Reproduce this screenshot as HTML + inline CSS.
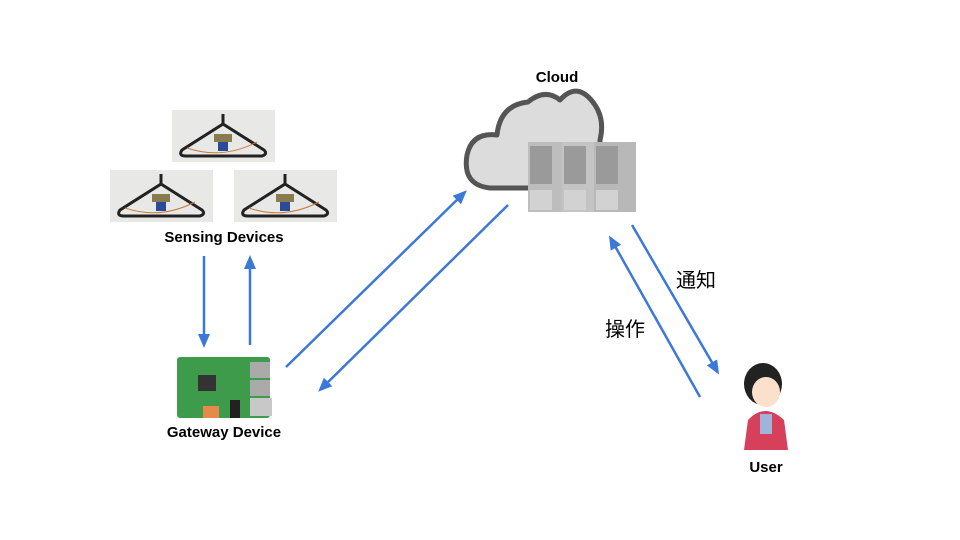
<!DOCTYPE html>
<html><head><meta charset="utf-8"><style>
body{margin:0;background:#fff;width:960px;height:540px;overflow:hidden}
svg{display:block}
.t{font-family:"Liberation Sans",sans-serif;font-weight:bold;font-size:15px;fill:#000;text-anchor:middle}
.j{font-family:"Liberation Sans","Noto Sans CJK JP",sans-serif;font-size:20px;fill:#000;text-anchor:middle}
</style></head><body>
<svg width="960" height="540" viewBox="0 0 960 540">
<defs>
<marker id="a" markerWidth="14" markerHeight="14" refX="10" refY="7" orient="auto" markerUnits="userSpaceOnUse" viewBox="0 0 14 14">
<path d="M0,1 L14,7 L0,13 z" fill="#3c78d8"/></marker>
<g id="h">
<rect width="103" height="52" fill="#e8e8e6"/>
<path d="M51,4 L51,14 L10,40 Q6,46 14,46 L90,46 Q96,44 92,40 L51,14" fill="none" stroke="#222" stroke-width="3"/>
<rect x="42" y="24" width="18" height="8" fill="#8a7a50"/>
<rect x="46" y="32" width="10" height="9" fill="#2a4a9a"/>
<path d="M15,38 Q50,50 85,32" fill="none" stroke="#c87a3a" stroke-width="1"/>
</g>
</defs>
<use href="#h" x="172" y="110"/>
<use href="#h" x="110" y="170"/>
<use href="#h" x="234" y="170"/>
<text class="t" x="224" y="242">Sensing Devices</text>

<path d="M490,188 Q462,185 467,155 Q472,132 497,135 Q500,105 528,102 Q545,88 560,100 Q578,80 595,105 Q605,120 600,140 L600,188 Z" fill="#dcdcdc" stroke="#555" stroke-width="5" stroke-linejoin="round"/>
<g>
<rect x="528" y="142" width="34" height="70" fill="#bdbdbd"/>
<rect x="562" y="142" width="32" height="70" fill="#c4c4c4"/>
<rect x="594" y="142" width="42" height="70" fill="#b8b8b8"/>
<rect x="530" y="146" width="22" height="38" fill="#9a9a9a"/>
<rect x="564" y="146" width="22" height="38" fill="#9a9a9a"/>
<rect x="596" y="146" width="22" height="38" fill="#9a9a9a"/>
<rect x="530" y="190" width="22" height="20" fill="#d2d2d2"/>
<rect x="564" y="190" width="22" height="20" fill="#d2d2d2"/>
<rect x="596" y="190" width="22" height="20" fill="#d2d2d2"/>
</g>
<text class="t" x="557" y="82">Cloud</text>

<rect x="177" y="357" width="93" height="61" rx="3" fill="#3f9b4c"/>
<rect x="250" y="362" width="20" height="16" fill="#aaa"/>
<rect x="250" y="380" width="20" height="16" fill="#aaa"/>
<rect x="250" y="398" width="22" height="18" fill="#c8c8c8"/>
<rect x="198" y="375" width="18" height="16" fill="#333"/>
<rect x="203" y="406" width="16" height="12" fill="#e58a4a"/>
<rect x="230" y="400" width="10" height="18" fill="#222"/>
<text class="t" x="224" y="437">Gateway Device</text>

<ellipse cx="763" cy="384" rx="19" ry="21" fill="#222"/>
<ellipse cx="766" cy="392" rx="14" ry="15" fill="#fbe0cc"/>
<path d="M748,420 Q765,402 784,420 L788,450 L744,450 Z" fill="#d6405a"/>
<rect x="760" y="414" width="12" height="20" fill="#9fb4d8"/>
<text class="t" x="766" y="472">User</text>

<g stroke="#3c78d8" stroke-width="2.5" fill="none" marker-end="url(#a)">
<line x1="204" y1="256" x2="204" y2="344"/>
<line x1="250" y1="345" x2="250" y2="259"/>
<line x1="286" y1="367" x2="464" y2="193"/>
<line x1="508" y1="205" x2="321" y2="389"/>
<line x1="632" y1="225" x2="717" y2="371"/>
<line x1="700" y1="397" x2="611" y2="239"/>
</g>
<text class="j" x="696" y="287">通知</text>
<text class="j" x="625" y="336">操作</text>
</svg>
</body></html>
